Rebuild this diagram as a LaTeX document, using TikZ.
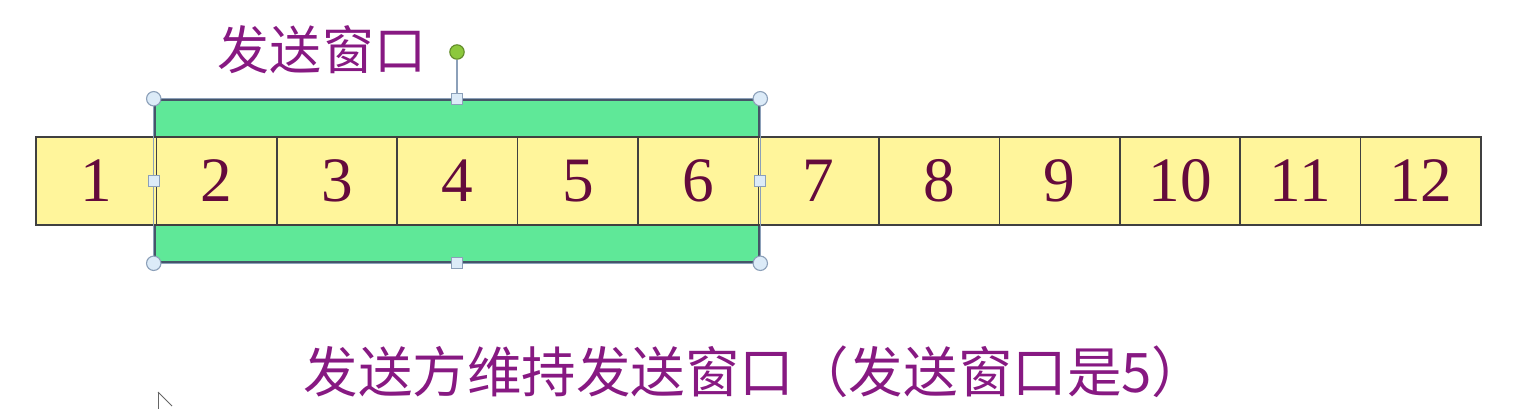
\documentclass[tikz,border=0pt]{standalone}
\usepackage{fontspec}
\newfontfamily\cjk{Noto Sans CJK SC}
\newfontfamily\numfont{Liberation Serif}
\begin{document}
\begin{tikzpicture}[x=0.25mm,y=-0.25mm,
  cell/.style={draw=black!75, line width=1.1pt, fill=cellyellow, minimum width=30.1mm, minimum height=22mm, inner sep=0pt, font=\numfont\fontsize{45}{45}\selectfont, text=numred},
  winbox/.style={draw=frame, line width=1.8pt, fill=wingreen, minimum width=151mm, minimum height=40.5mm, inner sep=0pt},
  hcirc/.style={circle, draw=handledraw, fill=handlefill, line width=0.8pt, minimum size=3.6mm, inner sep=0pt},
  hsq/.style={rectangle, draw=handledraw, fill=handlefill, line width=0.8pt, minimum size=2.8mm, inner sep=0pt},
  title/.style={font=\cjk\fontsize{37}{37}\selectfont, text=titlepurple, inner sep=0pt}]
\definecolor{cellyellow}{RGB}{255,245,155}
\definecolor{numred}{RGB}{100,10,60}
\definecolor{wingreen}{RGB}{95,232,152}
\definecolor{frame}{RGB}{70,85,105}
\definecolor{handledraw}{RGB}{140,160,185}
\definecolor{handlefill}{RGB}{220,235,248}
\definecolor{titlepurple}{RGB}{135,25,130}
\definecolor{rotgreen}{RGB}{140,200,60}
\useasboundingbox (0,0) rectangle (1536,409);
% window rectangle
\node[winbox] (win) at (457,181) {};
% cells
\foreach \i in {1,...,12}{
  \node[cell] (c\i) at ({36+120.42*(\i-0.5)},181) {\i};
}
% selection frame
\draw[handledraw, line width=0.8pt] (win.north west) rectangle (win.south east);
\node[circle, draw=rotgreen!70!black, fill=rotgreen, line width=0.8pt, minimum size=3.6mm, inner sep=0pt] (rot) at (457,52) {};
\draw[handledraw, line width=1pt] (rot) -- (win.north);
\foreach \a in {north west, north east, south west, south east}{
  \node[hcirc] at (win.\a) {};
}
\foreach \a in {north, south, west, east}{
  \node[hsq] at (win.\a) {};
}
% titles
\node[title] (t1) at (322,50) {发送窗口};
\node[title, font=\cjk\fontsize{38.8}{38.8}\selectfont] (t2) at (755,372) {发送方维持发送窗口（发送窗口是5）};
% cursor (partial)
\draw[black!60, line width=0.6pt] (158,392) -- (158,409);
\draw[black!60, line width=0.6pt] (158,392) -- (172,406);
\end{tikzpicture}
\end{document}
